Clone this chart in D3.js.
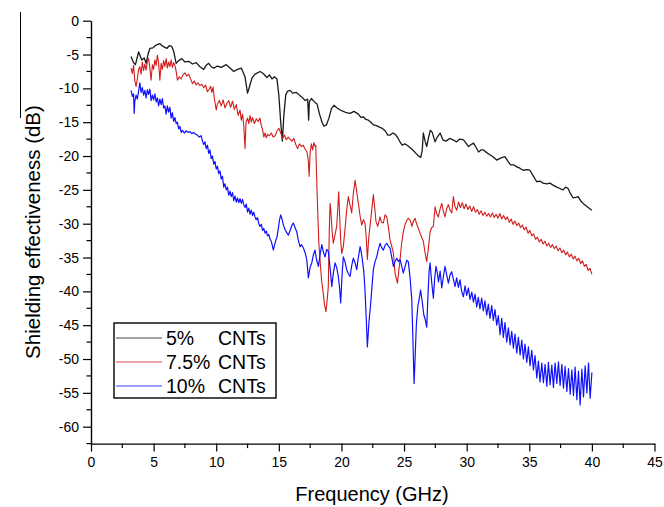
<!DOCTYPE html>
<html><head><meta charset="utf-8">
<script src="https://cdn.jsdelivr.net/npm/d3@7"></script>
<style>body{margin:0;background:#fff}svg{display:block}</style>
</head><body><svg id="chart" width="664" height="507"></svg>
<script>
const seriesNames = ["5%", "7.5%", "10%"];
const seriesSuffix = "CNTs";
const seriesColors = ["#1a1a1a", "#d21c1c", "#1010ff"];
const xTicks = [0,5,10,15,20,25,30,35,40,45];
const yTicks = [0,-5,-10,-15,-20,-25,-30,-35,-40,-45,-50,-55,-60];
const xTitle = "Frequency (GHz)";
const yTitle = "Shielding effectiveness (dB)";

// [frequency GHz, shielding effectiveness dB]
const cnt5 = [[3.2,-5.3],[3.4,-6.2],[3.55,-6.5],[3.8,-4.6],[4.05,-5.8],[4.25,-5.5],[4.4,-6.3],[4.55,-5.0],[4.7,-4.1],[4.95,-4.0],[5.2,-3.6],[5.5,-3.4],[5.75,-3.8],[6.05,-4.1],[6.25,-3.7],[6.45,-3.8],[6.6,-4.5],[6.8,-6.3],[7.0,-5.9],[7.25,-5.6],[7.5,-6.1],[7.8,-6.0],[8.1,-6.4],[8.4,-6.2],[8.7,-6.8],[9.0,-7.2],[9.2,-6.6],[9.4,-6.3],[9.6,-6.8],[9.8,-7.0],[10.1,-6.7],[10.4,-6.9],[10.8,-6.5],[11.1,-7.0],[11.4,-7.5],[11.7,-7.2],[12.0,-7.0],[12.3,-8.3],[12.5,-10.7],[12.65,-9.8],[12.85,-8.5],[13.1,-7.9],[13.5,-7.5],[13.75,-7.8],[14.05,-8.4],[14.25,-8.0],[14.45,-8.6],[14.65,-8.3],[14.85,-8.6],[15.0,-11],[15.15,-15],[15.28,-17.8],[15.4,-14],[15.55,-11],[15.7,-10.4],[15.9,-10.3],[16.1,-10.7],[16.4,-10.6],[16.65,-11.0],[16.85,-11.3],[17.1,-11.8],[17.3,-11.6],[17.38,-14.7],[17.44,-12.0],[17.6,-11.5],[17.85,-12.0],[18.05,-12.3],[18.25,-13.8],[18.45,-15.0],[18.6,-15.6],[18.8,-15.4],[19.0,-14.4],[19.2,-13.0],[19.4,-12.5],[19.65,-12.9],[19.9,-13.2],[20.15,-13.4],[20.4,-13.6],[20.7,-13.7],[21.0,-13.4],[21.35,-13.8],[21.55,-14.3],[21.75,-14.2],[21.95,-14.6],[22.15,-14.7],[22.35,-15.0],[22.55,-15.4],[22.8,-15.5],[23.0,-15.7],[23.25,-15.9],[23.5,-16.3],[23.7,-16.9],[23.9,-16.9],[24.1,-16.6],[24.3,-16.8],[24.5,-17.3],[24.7,-18.0],[24.85,-18.4],[25.05,-18.2],[25.25,-18.4],[25.45,-18.7],[25.7,-19.1],[25.95,-19.6],[26.15,-20.0],[26.33,-20.2],[26.45,-19.2],[26.54,-16.6],[26.68,-17.8],[26.81,-18.6],[26.95,-17.3],[27.1,-16.2],[27.25,-16.5],[27.48,-17.9],[27.65,-17.2],[27.88,-16.6],[28.1,-17.6],[28.35,-17.8],[28.65,-17.4],[28.9,-17.6],[29.2,-17.9],[29.45,-17.5],[29.75,-17.6],[29.95,-18.1],[30.15,-18.6],[30.35,-18.3],[30.55,-18.1],[30.75,-18.7],[30.95,-19.4],[31.15,-19.1],[31.35,-19.1],[31.6,-19.5],[31.85,-19.8],[32.1,-20.1],[32.4,-20.6],[32.7,-20.3],[33.05,-20.1],[33.3,-20.8],[33.5,-21.3],[33.75,-21.3],[34.0,-21.6],[34.25,-21.8],[34.5,-22.1],[34.8,-22.0],[35.05,-22.1],[35.3,-22.9],[35.6,-23.8],[35.85,-23.7],[36.1,-24.0],[36.4,-24.1],[36.65,-24.0],[36.9,-24.3],[37.2,-24.6],[37.45,-24.8],[37.7,-25.0],[37.9,-24.6],[38.1,-24.8],[38.3,-25.6],[38.5,-26.2],[38.7,-26.1],[38.9,-26.0],[39.1,-26.6],[39.3,-27.0],[39.5,-27.3],[39.7,-27.6],[40.0,-28.0]];

const cnt75 = [[3.2,-7.0],[3.3,-7.8],[3.4,-6.6],[3.5,-8.9],[3.6,-9.7],[3.7,-8.6],[3.8,-7.2],[3.9,-6.8],[4.0,-7.9],[4.1,-6.1],[4.2,-7.4],[4.3,-6.4],[4.4,-7.3],[4.5,-6.0],[4.6,-5.6],[4.7,-7.0],[4.8,-8.8],[4.9,-6.5],[5.0,-7.2],[5.1,-5.8],[5.2,-6.6],[5.3,-5.1],[5.4,-6.2],[5.5,-8.8],[5.6,-6.3],[5.7,-7.2],[5.8,-5.9],[5.9,-6.8],[6.0,-5.6],[6.1,-7.0],[6.2,-6.1],[6.3,-6.8],[6.4,-5.8],[6.5,-6.9],[6.6,-6.2],[6.7,-6.6],[6.8,-7.5],[6.9,-8.8],[7.05,-8.3],[7.2,-8.6],[7.35,-8.0],[7.5,-7.7],[7.65,-8.2],[7.8,-7.9],[7.95,-8.6],[8.1,-9.3],[8.25,-8.9],[8.4,-9.5],[8.55,-9.2],[8.7,-9.6],[8.85,-9.4],[9.0,-9.9],[9.15,-9.5],[9.3,-10.5],[9.45,-10.1],[9.55,-9.7],[9.65,-10.6],[9.75,-9.8],[9.85,-11.5],[10.0,-13.2],[10.1,-12.3],[10.25,-11.8],[10.4,-12.6],[10.55,-11.7],[10.7,-12.9],[10.85,-12.2],[11.0,-11.8],[11.15,-12.8],[11.3,-11.9],[11.45,-13.1],[11.6,-12.4],[11.75,-14.0],[11.9,-13.2],[12.0,-14.7],[12.1,-13.8],[12.2,-15.5],[12.3,-18.9],[12.38,-15.0],[12.5,-14.4],[12.6,-15.2],[12.7,-14.0],[12.8,-15.0],[12.9,-14.3],[13.05,-15.2],[13.2,-14.5],[13.35,-14.9],[13.5,-14.4],[13.6,-15.5],[13.7,-16.1],[13.8,-17.2],[13.9,-16.6],[14.0,-17.3],[14.1,-16.8],[14.25,-17.0],[14.4,-16.6],[14.55,-17.2],[14.7,-17.0],[14.85,-16.3],[15.0,-15.9],[15.15,-16.6],[15.3,-17.4],[15.45,-16.9],[15.6,-17.6],[15.75,-17.2],[15.9,-17.5],[16.05,-17.8],[16.2,-17.4],[16.35,-18.3],[16.5,-18.9],[16.65,-18.2],[16.8,-18.6],[16.95,-18.4],[17.1,-19.0],[17.25,-19.4],[17.35,-20.6],[17.42,-23.0],[17.5,-19.5],[17.6,-18.2],[17.7,-19.1],[17.8,-18.0],[17.9,-18.6],[17.95,-18.4],[18.0,-22],[18.1,-28],[18.2,-33],[18.29,-35.4],[18.42,-38.5],[18.55,-40.3],[18.65,-42],[18.76,-43],[18.85,-41.5],[18.95,-39.3],[19.03,-31],[19.09,-27],[19.15,-28],[19.25,-31],[19.35,-32.9],[19.5,-31.5],[19.62,-30.4],[19.7,-28],[19.78,-25.3],[19.86,-29],[19.94,-32.5],[20.02,-34.4],[20.15,-33.4],[20.3,-30.5],[20.42,-28],[20.55,-26],[20.68,-27.2],[20.82,-28.4],[20.95,-25.5],[21.09,-23.6],[21.2,-25],[21.35,-27],[21.5,-29],[21.62,-30.2],[21.75,-29.4],[21.88,-29.9],[21.98,-32],[22.07,-35.3],[22.18,-32],[22.28,-30.4],[22.42,-28],[22.55,-25.7],[22.65,-27.5],[22.76,-29.7],[22.9,-30.4],[23.08,-29],[23.2,-29.8],[23.35,-29.9],[23.48,-28.7],[23.62,-29],[23.75,-30.5],[23.88,-32.4],[24.0,-33.2],[24.15,-34.4],[24.28,-37.3],[24.47,-38.8],[24.58,-37],[24.68,-35.3],[24.8,-33],[24.94,-31.2],[25.1,-30],[25.2,-29.6],[25.34,-29.2],[25.5,-29.5],[25.62,-30.4],[25.75,-29.6],[25.88,-29.2],[26.0,-30],[26.14,-30.7],[26.3,-31.5],[26.45,-32.2],[26.54,-32.6],[26.65,-34],[26.81,-35.6],[26.95,-33.5],[27.08,-31.2],[27.2,-30.6],[27.34,-30.4],[27.48,-27.5],[27.6,-28.5],[27.74,-29],[27.88,-27.8],[28.01,-27],[28.14,-28.2],[28.27,-29],[28.4,-27.8],[28.54,-27.2],[28.68,-28],[28.81,-28.4],[28.94,-26],[29.07,-27.5],[29.21,-28],[29.35,-26.8],[29.5,-27.6],[29.65,-26.9],[29.8,-27.8],[29.95,-27.1],[30.1,-27.9],[30.25,-27.4],[30.4,-28.2],[30.55,-27.5],[30.7,-28.3],[30.85,-27.9],[31.0,-28.6],[31.15,-28.1],[31.3,-28.8],[31.45,-28.3],[31.6,-28.9],[31.75,-28.5],[31.9,-29.0],[32.05,-28.4],[32.2,-29.1],[32.35,-28.6],[32.5,-29.2],[32.65,-28.5],[32.8,-29.3],[32.95,-28.8],[33.1,-29.4],[33.25,-29.0],[33.4,-29.8],[33.55,-29.3],[33.7,-30.1],[33.85,-29.6],[34.0,-30.3],[34.15,-29.9],[34.3,-30.6],[34.45,-30.2],[34.6,-30.9],[34.75,-30.5],[34.9,-31.4],[35.05,-31.0],[35.2,-31.8],[35.35,-31.5],[35.5,-32.3],[35.65,-32.0],[35.8,-32.7],[35.95,-32.3],[36.1,-33.0],[36.25,-32.6],[36.4,-33.3],[36.55,-32.9],[36.7,-33.5],[36.85,-33.1],[37.0,-33.7],[37.15,-33.3],[37.3,-34.0],[37.45,-33.6],[37.6,-34.3],[37.75,-33.9],[37.9,-34.6],[38.05,-34.2],[38.2,-34.9],[38.35,-34.5],[38.5,-35.2],[38.65,-34.8],[38.8,-35.5],[38.95,-35.1],[39.1,-35.9],[39.25,-35.5],[39.4,-36.3],[39.55,-36.0],[39.7,-36.9],[39.85,-36.6],[40.0,-37.5]];

const cnt10 = [[3.2,-10.3],[3.3,-11.2],[3.4,-10.8],[3.45,-13.7],[3.5,-11.9],[3.6,-11.0],[3.7,-11.6],[3.8,-10.4],[3.9,-9.2],[4.0,-10.6],[4.1,-9.9],[4.2,-11.0],[4.3,-10.3],[4.4,-11.4],[4.5,-10.2],[4.6,-10.9],[4.7,-10.1],[4.8,-11.8],[4.9,-11.0],[5.0,-11.7],[5.1,-10.8],[5.2,-12.0],[5.3,-11.4],[5.4,-12.6],[5.5,-11.6],[5.6,-12.4],[5.7,-11.5],[5.8,-12.9],[5.9,-12.6],[6.0,-13.8],[6.1,-12.6],[6.2,-13.5],[6.3,-12.8],[6.4,-14.4],[6.5,-13.6],[6.6,-14.9],[6.7,-14.3],[6.8,-15.2],[6.9,-15.0],[7.0,-16.0],[7.1,-15.6],[7.2,-16.5],[7.3,-16.2],[7.45,-16.6],[7.6,-16.3],[7.75,-16.5],[7.9,-16.4],[8.05,-16.7],[8.2,-16.5],[8.35,-16.8],[8.5,-16.9],[8.65,-17.2],[8.8,-17.0],[8.9,-17.8],[9.0,-18.3],[9.1,-17.9],[9.2,-18.9],[9.3,-18.4],[9.4,-19.6],[9.5,-19.1],[9.6,-20.4],[9.7,-20.0],[9.8,-21.2],[9.9,-20.8],[10.0,-21.9],[10.1,-21.5],[10.2,-22.6],[10.3,-22.2],[10.4,-23.4],[10.5,-23.0],[10.6,-24.6],[10.7,-24.1],[10.8,-25.0],[10.9,-24.6],[11.0,-25.8],[11.1,-25.2],[11.2,-26.0],[11.3,-25.4],[11.4,-26.6],[11.5,-25.9],[11.6,-26.8],[11.7,-26.2],[11.8,-26.9],[11.9,-26.3],[12.0,-27.0],[12.1,-26.4],[12.2,-27.2],[12.3,-27.6],[12.4,-27.1],[12.5,-28.3],[12.6,-27.7],[12.7,-28.6],[12.8,-28.0],[12.9,-28.8],[13.0,-28.3],[13.1,-29.0],[13.2,-29.4],[13.3,-29.1],[13.4,-30.0],[13.5,-30.4],[13.6,-30.1],[13.7,-31.0],[13.8,-30.7],[13.9,-31.4],[14.0,-31.1],[14.1,-31.8],[14.2,-31.6],[14.3,-32.3],[14.4,-32.6],[14.5,-33.4],[14.56,-33.9],[14.65,-33.2],[14.75,-32.5],[14.85,-32.0],[14.95,-30.8],[15.05,-29.5],[15.15,-28.7],[15.25,-29.3],[15.35,-30.1],[15.5,-30.9],[15.65,-31.4],[15.76,-31.7],[15.9,-31.0],[16.05,-30.2],[16.16,-29.9],[16.3,-30.6],[16.43,-31.2],[16.55,-32.4],[16.69,-33.4],[16.8,-33.1],[16.96,-33.6],[17.1,-34.3],[17.23,-35.3],[17.36,-38.0],[17.5,-36.4],[17.63,-35.8],[17.76,-34.6],[17.89,-33.9],[18.02,-35.4],[18.16,-36.3],[18.3,-34.5],[18.43,-33.1],[18.56,-34.2],[18.69,-34.9],[18.82,-33.8],[18.95,-34.1],[19.09,-36.5],[19.23,-39.3],[19.36,-37.2],[19.49,-35.8],[19.62,-36.5],[19.75,-37.8],[19.85,-39.5],[19.94,-41.7],[20.05,-37.5],[20.15,-34.9],[20.28,-35.6],[20.42,-36.8],[20.55,-37.4],[20.69,-37.8],[20.82,-36.2],[20.95,-35.1],[21.09,-35.8],[21.22,-36.8],[21.35,-35.0],[21.49,-33.4],[21.58,-34.2],[21.67,-35.3],[21.78,-37.0],[21.88,-39.8],[21.98,-44.0],[22.07,-48.2],[22.2,-44.5],[22.34,-41.7],[22.45,-39.0],[22.55,-36.8],[22.68,-35.6],[22.82,-34.9],[22.95,-33.8],[23.08,-32.9],[23.2,-33.5],[23.35,-33.9],[23.48,-33.2],[23.62,-32.9],[23.75,-33.3],[23.88,-33.6],[24.0,-34.8],[24.15,-36.3],[24.28,-35.6],[24.42,-35.1],[24.55,-35.6],[24.68,-35.3],[24.8,-36.2],[24.94,-37.3],[25.1,-36.2],[25.22,-35.4],[25.34,-35.6],[25.48,-38.0],[25.62,-41.3],[25.72,-48.0],[25.8,-53.6],[25.88,-50.0],[25.98,-45.0],[26.1,-42.2],[26.22,-41.0],[26.32,-39.8],[26.45,-41.5],[26.58,-43.5],[26.7,-44.2],[26.81,-45.3],[26.9,-41.0],[27.0,-37.0],[27.08,-35.8],[27.2,-38.5],[27.34,-41.0],[27.45,-38.0],[27.55,-36.3],[27.65,-37.2],[27.75,-38.6],[27.88,-37.0],[28.01,-39.5],[28.14,-37.8],[28.27,-36.3],[28.4,-37.5],[28.54,-38.8],[28.67,-37.6],[28.8,-37.1],[28.94,-38.2],[29.07,-39.3],[29.2,-38.0],[29.34,-39.4],[29.47,-38.3],[29.6,-40.0],[29.74,-40.8],[29.87,-39.2],[30.0,-40.6],[30.14,-39.5],[30.27,-41.2],[30.41,-40.1],[30.54,-41.6],[30.67,-40.4],[30.8,-42.3],[30.93,-40.9],[31.06,-42.6],[31.2,-41.0],[31.33,-42.9],[31.46,-41.4],[31.6,-43.5],[31.73,-41.9],[31.86,-44.0],[32.0,-42.1],[32.13,-44.3],[32.26,-42.7],[32.4,-45.0],[32.53,-43.6],[32.67,-46.4],[32.8,-44.0],[32.93,-46.8],[33.06,-44.6],[33.2,-47.5],[33.33,-45.4],[33.47,-47.9],[33.6,-45.9],[33.73,-48.4],[33.86,-46.3],[34.0,-49.1],[34.13,-46.8],[34.27,-49.4],[34.4,-47.2],[34.53,-50.0],[34.66,-47.8],[34.8,-50.5],[34.93,-48.2],[35.06,-51.0],[35.2,-48.7],[35.33,-51.6],[35.46,-49.5],[35.6,-52.8],[35.73,-50.3],[35.86,-53.4],[36.0,-50.6],[36.13,-53.5],[36.26,-50.8],[36.4,-54.0],[36.53,-50.5],[36.66,-53.8],[36.8,-50.9],[36.93,-54.2],[37.06,-50.6],[37.2,-53.6],[37.33,-50.4],[37.46,-53.9],[37.6,-50.8],[37.73,-54.3],[37.86,-51.1],[38.0,-54.8],[38.13,-51.4],[38.27,-55.2],[38.4,-51.6],[38.53,-55.4],[38.66,-51.2],[38.8,-56.0],[38.93,-51.8],[39.06,-56.8],[39.2,-51.5],[39.33,-55.6],[39.46,-51.0],[39.6,-55.0],[39.73,-50.6],[39.86,-55.8],[40.0,-52.0]];

const allSeries = [cnt5, cnt75, cnt10];

const FONT = "'Liberation Sans', Arial, Helvetica, sans-serif";
const svg = d3.select("#chart");
svg.append("rect").attr("width", 664).attr("height", 507).attr("fill", "#fff");

const x = d3.scaleLinear().domain([0, 45]).range([91, 654.5]);
const y = d3.scaleLinear().domain([-62.5, 0]).range([443.6, 20.7]);

// stray frame mark at left edge of the original figure
svg.append("line").attr("x1", 20.5).attr("x2", 20.5).attr("y1", 12).attr("y2", 118)
  .attr("stroke", "#000").attr("stroke-width", 1);

// minor ticks
const xMinor = d3.range(2.5, 45, 5);
const yMinor = d3.range(-2.5, -63, -5);
const minorG = svg.append("g");
minorG.selectAll("line.xm").data(xMinor).join("line")
  .attr("x1", d => x(d)).attr("x2", d => x(d)).attr("y1", y(-62.5)).attr("y2", y(-62.5) + 4.5)
  .attr("stroke", "#000").attr("stroke-width", 1.2);
minorG.selectAll("line.ym").data(yMinor).join("line")
  .attr("x1", x(0) - 4.5).attr("x2", x(0)).attr("y1", d => y(d)).attr("y2", d => y(d))
  .attr("stroke", "#000").attr("stroke-width", 1.2);

const fmt = d => String(d);
const xAxis = svg.append("g").attr("transform", `translate(0,${y(-62.5)})`)
  .call(d3.axisBottom(x).tickValues(xTicks).tickFormat(fmt).tickSize(8).tickSizeOuter(0).tickPadding(5));
const yAxis = svg.append("g").attr("transform", `translate(${x(0)},0)`)
  .call(d3.axisLeft(y).tickValues(yTicks).tickFormat(fmt).tickSize(8).tickSizeOuter(0).tickPadding(4));
[xAxis, yAxis].forEach(g => {
  g.select(".domain").attr("stroke", "#000").attr("stroke-width", 1.4);
  g.selectAll(".tick line").attr("stroke", "#000").attr("stroke-width", 1.2);
  g.selectAll(".tick text").attr("fill", "#000").style("font-family", FONT).style("font-size", "14px");
});

svg.append("text").attr("x", 372).attr("y", 501).attr("text-anchor", "middle")
  .style("font-family", FONT).style("font-size", "20px").attr("fill", "#000").text(xTitle);
svg.append("text").attr("transform", "translate(40,232) rotate(-90)").attr("text-anchor", "middle")
  .style("font-family", FONT).style("font-size", "20.5px").attr("fill", "#000").text(yTitle);

const line = d3.line().x(d => x(d[0])).y(d => y(d[1]));
const widths = [1.3, 1.1, 1.2];
allSeries.forEach((s, i) => {
  svg.append("path").datum(s).attr("d", line).attr("fill", "none")
    .attr("stroke", seriesColors[i]).attr("stroke-width", widths[i]).attr("stroke-linejoin", "round");
});

// legend
const lg = svg.append("g");
lg.append("rect").attr("x", 114).attr("y", 323).attr("width", 162).attr("height", 75)
  .attr("fill", "#fff").attr("stroke", "#000").attr("stroke-width", 1.4);
seriesNames.forEach((name, i) => {
  const cy = 338 + i * 24;
  lg.append("line").attr("x1", 116).attr("x2", 162).attr("y1", cy).attr("y2", cy)
    .attr("stroke", seriesColors[i]).attr("stroke-width", 1).attr("opacity", 0.8);
  const t = lg.append("text").attr("y", cy + 7).style("font-family", FONT).style("font-size", "19.5px").attr("fill", "#000");
  t.append("tspan").attr("x", 166).text(name);
  t.append("tspan").attr("x", 218).text(seriesSuffix);
});
</script></body></html>
